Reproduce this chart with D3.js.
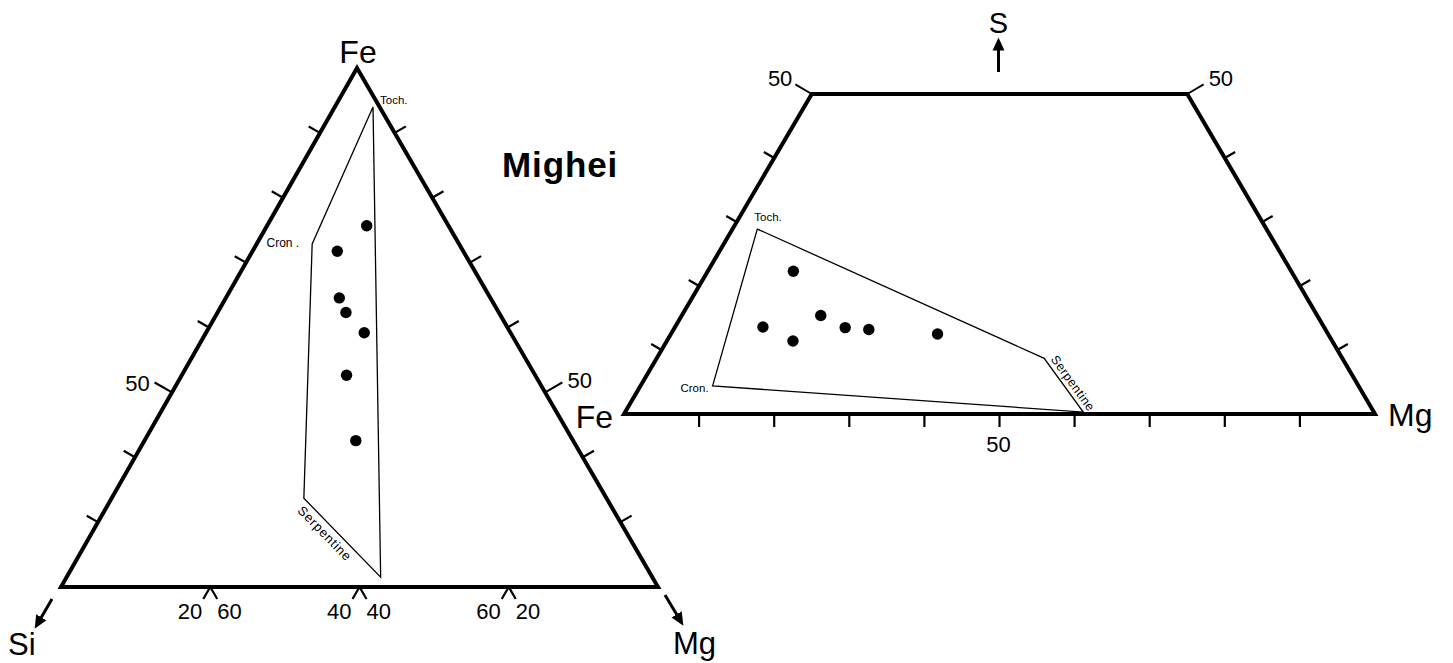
<!DOCTYPE html>
<html>
<head>
<meta charset="utf-8">
<script src="https://cdn.jsdelivr.net/npm/d3@7"></script>
<style>
  html, body { margin: 0; padding: 0; background: #fff; }
  svg { display: block; }
  text { font-family: "Liberation Sans", Arial, Helvetica, sans-serif; fill: #000; }
</style>
</head>
<body>
<svg id="chart" width="1453" height="663"></svg>
<script>
// ---- Fe–Mg–Si diagram (left): compositions as [Fe, Mg, Si] ----
const feMgSiPoints = [
  [69.6, 16.7, 13.7],
  [64.7, 14.2, 21.1],
  [55.7, 19.0, 25.3],
  [52.9, 21.5, 25.6],
  [49.0, 26.5, 24.5],
  [40.8, 27.6, 31.6],
  [28.2, 35.4, 36.4]
];
// serpentine field: Toch., Cron., lower-left, lower-right
const feMgSiField = [
  [92.5, 6.4, 1.1],
  [66.1, 9.3, 24.6],
  [17.1, 32.2, 50.7],
  [1.9, 52.6, 45.5]
];
const fieldLabelsLeft = ["Toch.", "Cron ."];
// edge ticks (percent of edge length, measured from the Fe apex)
const sideTicksLeft = [12.5, 25, 37.5, 50, 62.5, 75, 87.5];
const sideTickLabelLeft = { 62.5: "50" };
// base ticks (percent Mg along Si–Mg join) with paired labels
const baseTicksLeft = [25, 50, 75];
const baseTickLabelsLeft = [["20", "60"], ["40", "40"], ["60", "20"]];

// ---- Fe–Mg–S diagram (right, truncated at S = 50): [Fe, Mg, S] ----
const feMgSPoints = [
  [66.3, 11.4, 22.3],
  [74.7, 11.7, 13.6],
  [71.8, 16.8, 11.4],
  [66.1, 18.5, 15.4],
  [63.8, 22.7, 13.5],
  [60.8, 26.0, 13.2],
  [52.0, 35.5, 12.5]
];
// field: Toch., serpentine upper, serpentine lower, Cron.
const feMgSField = [
  [67.8, 3.3, 28.9],
  [39.7, 51.6, 8.7],
  [38.7, 61.0, 0.3],
  [86.0, 9.6, 4.4]
];
const baseTicksRight = [10, 20, 30, 40, 50, 60, 70, 80, 90];
const baseTickLabelRight = { 50: "50" };
const sideTicksRight = [10, 20, 30, 40];
const sMax = 50;

const svg = d3.select("#chart");
svg.append("rect").attr("width", 1453).attr("height", 663).attr("fill", "#fff");

const pct = d3.scaleLinear().domain([0, 100]).range([0, 1]);

// barycentric projection onto three corner positions
function ternary(verts) {
  return comp => {
    const w = comp.map(v => pct(v));
    const s = d3.sum(w);
    return [
      d3.sum(w, (wi, i) => wi * verts[i][0]) / s,
      d3.sum(w, (wi, i) => wi * verts[i][1]) / s
    ];
  };
}
function outward(p, a, b, c) {
  // unit normal of edge a-b pointing away from c
  const dx = b[0] - a[0], dy = b[1] - a[1];
  const L = Math.hypot(dx, dy);
  let n = [-dy / L, dx / L];
  if ((c[0] - p[0]) * n[0] + (c[1] - p[1]) * n[1] > 0) n = [-n[0], -n[1]];
  return n;
}

const defs = svg.append("defs");
defs.append("marker").attr("id", "head")
  .attr("viewBox", "0 0 10 10").attr("refX", 5).attr("refY", 5)
  .attr("markerWidth", 4.4).attr("markerHeight", 4.4).attr("orient", "auto")
  .append("path").attr("d", "M0,0.5 L10,5 L0,9.5 Z").attr("fill", "#000");

const line = d3.line();

// ================= LEFT TRIANGLE =================
const L = { fe: [357, 68], mg: [658, 587], si: [61, 587] };
const projL = ternary([L.fe, L.mg, L.si]);
const gL = svg.append("g");

gL.append("path")
  .attr("d", line([projL([100, 0, 0]), projL([0, 100, 0]), projL([0, 0, 100])]) + "Z")
  .attr("fill", "none").attr("stroke", "#000").attr("stroke-width", 4)
  .attr("stroke-linejoin", "miter");

// side ticks (left edge Fe–Si, right edge Fe–Mg)
[["si", t => [100 - t, 0, t], -1], ["mg", t => [100 - t, t, 0], 1]].forEach(([end, comp, side]) => {
  sideTicksLeft.forEach(t => {
    const p = projL(comp(t));
    const n = outward(p, L.fe, L[end], end === "si" ? L.mg : L.si);
    const labelled = sideTickLabelLeft[t] !== undefined;
    const len = labelled ? 20 : 13;
    const q = [p[0] + n[0] * len, p[1] + n[1] * len];
    gL.append("line").attr("x1", p[0]).attr("y1", p[1]).attr("x2", q[0]).attr("y2", q[1])
      .attr("stroke", "#000").attr("stroke-width", 2.2);
    if (labelled) {
      gL.append("text")
        .attr("x", side < 0 ? q[0] - 5 : q[0] + 5)
        .attr("y", side < 0 ? q[1] + 9 : q[1] + 6)
        .attr("text-anchor", side < 0 ? "end" : "start")
        .attr("font-size", 22).text(sideTickLabelLeft[t]);
    }
  });
});

// base carets with paired labels
baseTicksLeft.forEach((t, i) => {
  const p = projL([0, t, 100 - t]);
  gL.append("path")
    .attr("d", line([[p[0] - 7, p[1] + 12], [p[0], p[1]], [p[0] + 7, p[1] + 12]]))
    .attr("fill", "none").attr("stroke", "#000").attr("stroke-width", 2.2);
  gL.append("text").attr("x", p[0] - 8).attr("y", p[1] + 32)
    .attr("text-anchor", "end").attr("font-size", 22).text(baseTickLabelsLeft[i][0]);
  gL.append("text").attr("x", p[0] + 7).attr("y", p[1] + 32)
    .attr("text-anchor", "start").attr("font-size", 22).text(baseTickLabelsLeft[i][1]);
});

// serpentine field
const fL = feMgSiField.map(projL);
gL.append("path").attr("d", line(fL) + "Z")
  .attr("fill", "none").attr("stroke", "#000").attr("stroke-width", 1.3);
gL.append("text").attr("x", fL[0][0] + 7).attr("y", fL[0][1] - 3)
  .attr("font-size", 11.5).text(fieldLabelsLeft[0]);
gL.append("text").attr("x", fL[1][0] - 13).attr("y", fL[1][1] + 3)
  .attr("text-anchor", "end").attr("font-size", 12).text(fieldLabelsLeft[1]);
{
  const a = fL[2], b = fL[3];
  const ang = Math.atan2(b[1] - a[1], b[0] - a[0]) * 180 / Math.PI;
  gL.append("text")
    .attr("transform", `translate(${a[0] - 7},${a[1] + 13}) rotate(${ang})`)
    .attr("font-size", 13).attr("letter-spacing", 0.8).text("Serpentine");
}

// analyses
gL.selectAll("circle").data(feMgSiPoints).join("circle")
  .attr("cx", d => projL(d)[0]).attr("cy", d => projL(d)[1])
  .attr("r", 5.7).attr("fill", "#000");

// corner labels and arrows
gL.append("text").attr("x", L.fe[0] + 1).attr("y", L.fe[1] - 5)
  .attr("text-anchor", "middle").attr("font-size", 32).text("Fe");
gL.append("line").attr("x1", L.si[0] - 9).attr("y1", L.si[1] + 12)
  .attr("x2", L.si[0] - 23).attr("y2", L.si[1] + 36)
  .attr("stroke", "#000").attr("stroke-width", 3).attr("marker-end", "url(#head)");
gL.append("text").attr("x", 8).attr("y", L.si[1] + 68).attr("font-size", 31).text("Si");
gL.append("line").attr("x1", L.mg[0] + 7).attr("y1", L.mg[1] + 8)
  .attr("x2", L.mg[0] + 22).attr("y2", L.mg[1] + 33)
  .attr("stroke", "#000").attr("stroke-width", 3).attr("marker-end", "url(#head)");
gL.append("text").attr("x", 673).attr("y", L.mg[1] + 67).attr("font-size", 31).text("Mg");

// title
svg.append("text").attr("x", 502).attr("y", 177)
  .attr("font-size", 35).attr("font-weight", "bold").attr("letter-spacing", 0.9).text("Mighei");

// ================= RIGHT TRAPEZOID =================
const R = { fe: [624, 414], mg: [1375, 414], s: [999.5, -226] };
const projR = ternary([R.fe, R.mg, R.s]);
const gR = svg.append("g");

const corners = [projR([100, 0, 0]), projR([0, 100, 0]),
  projR([0, 100 - sMax, sMax]), projR([100 - sMax, 0, sMax])];
gR.append("path").attr("d", line(corners) + "Z")
  .attr("fill", "none").attr("stroke", "#000").attr("stroke-width", 4)
  .attr("stroke-linejoin", "miter");

// base ticks
baseTicksRight.forEach(t => {
  const p = projR([100 - t, t, 0]);
  gR.append("line").attr("x1", p[0]).attr("y1", p[1]).attr("x2", p[0]).attr("y2", p[1] + 13)
    .attr("stroke", "#000").attr("stroke-width", 2.2);
  if (baseTickLabelRight[t]) {
    gR.append("text").attr("x", p[0] - 1).attr("y", p[1] + 38)
      .attr("text-anchor", "middle").attr("font-size", 22).text(baseTickLabelRight[t]);
  }
});

// side ticks on the Fe–S and Mg–S edges, leader ticks at the S = 50 corners
[[t => [100 - t, 0, t], R.fe, R.mg, -1], [t => [0, 100 - t, t], R.mg, R.fe, 1]].forEach(([comp, a, other, side]) => {
  sideTicksRight.concat([sMax]).forEach(t => {
    const p = projR(comp(t));
    const n = outward(p, a, R.s, other);
    const len = t === sMax ? 19 : 12;
    const q = [p[0] + n[0] * len, p[1] + n[1] * len];
    gR.append("line").attr("x1", p[0]).attr("y1", p[1]).attr("x2", q[0]).attr("y2", q[1])
      .attr("stroke", "#000").attr("stroke-width", t === sMax ? 1.8 : 2.2);
    if (t === sMax) {
      gR.append("text").attr("x", side < 0 ? q[0] - 3 : q[0] + 5).attr("y", q[1] + 2)
        .attr("text-anchor", side < 0 ? "end" : "start").attr("font-size", 22).text(String(sMax));
    }
  });
});

// field
const fR = feMgSField.map(projR);
gR.append("path").attr("d", line(fR) + "Z")
  .attr("fill", "none").attr("stroke", "#000").attr("stroke-width", 1.3);
gR.append("text").attr("x", fR[0][0] - 3).attr("y", fR[0][1] - 8)
  .attr("font-size", 11.5).text("Toch.");
gR.append("text").attr("x", fR[3][0] - 4).attr("y", fR[3][1] + 6)
  .attr("text-anchor", "end").attr("font-size", 11.5).text("Cron.");
{
  const a = fR[1], b = fR[2];
  const ang = Math.atan2(b[1] - a[1], b[0] - a[0]) * 180 / Math.PI;
  gR.append("text")
    .attr("transform", `translate(${a[0] + 6},${a[1] + 1}) rotate(${ang})`)
    .attr("font-size", 12.5).attr("letter-spacing", 0.5).text("Serpentine");
}

gR.selectAll("circle").data(feMgSPoints).join("circle")
  .attr("cx", d => projR(d)[0]).attr("cy", d => projR(d)[1])
  .attr("r", 5.7).attr("fill", "#000");

// corner labels
gR.append("text").attr("x", R.fe[0] - 11).attr("y", R.fe[1] + 14)
  .attr("text-anchor", "end").attr("font-size", 32).text("Fe");
gR.append("text").attr("x", R.mg[0] + 13).attr("y", R.mg[1] + 12)
  .attr("font-size", 32).text("Mg");
const topMid = projR([25, 25, 50]);
gR.append("line").attr("x1", topMid[0] - 1).attr("y1", topMid[1] - 22)
  .attr("x2", topMid[0] - 1).attr("y2", topMid[1] - 50)
  .attr("stroke", "#000").attr("stroke-width", 3).attr("marker-end", "url(#head)");
gR.append("text").attr("x", topMid[0] - 1).attr("y", topMid[1] - 61)
  .attr("text-anchor", "middle").attr("font-size", 29).text("S");
</script>
</body>
</html>
